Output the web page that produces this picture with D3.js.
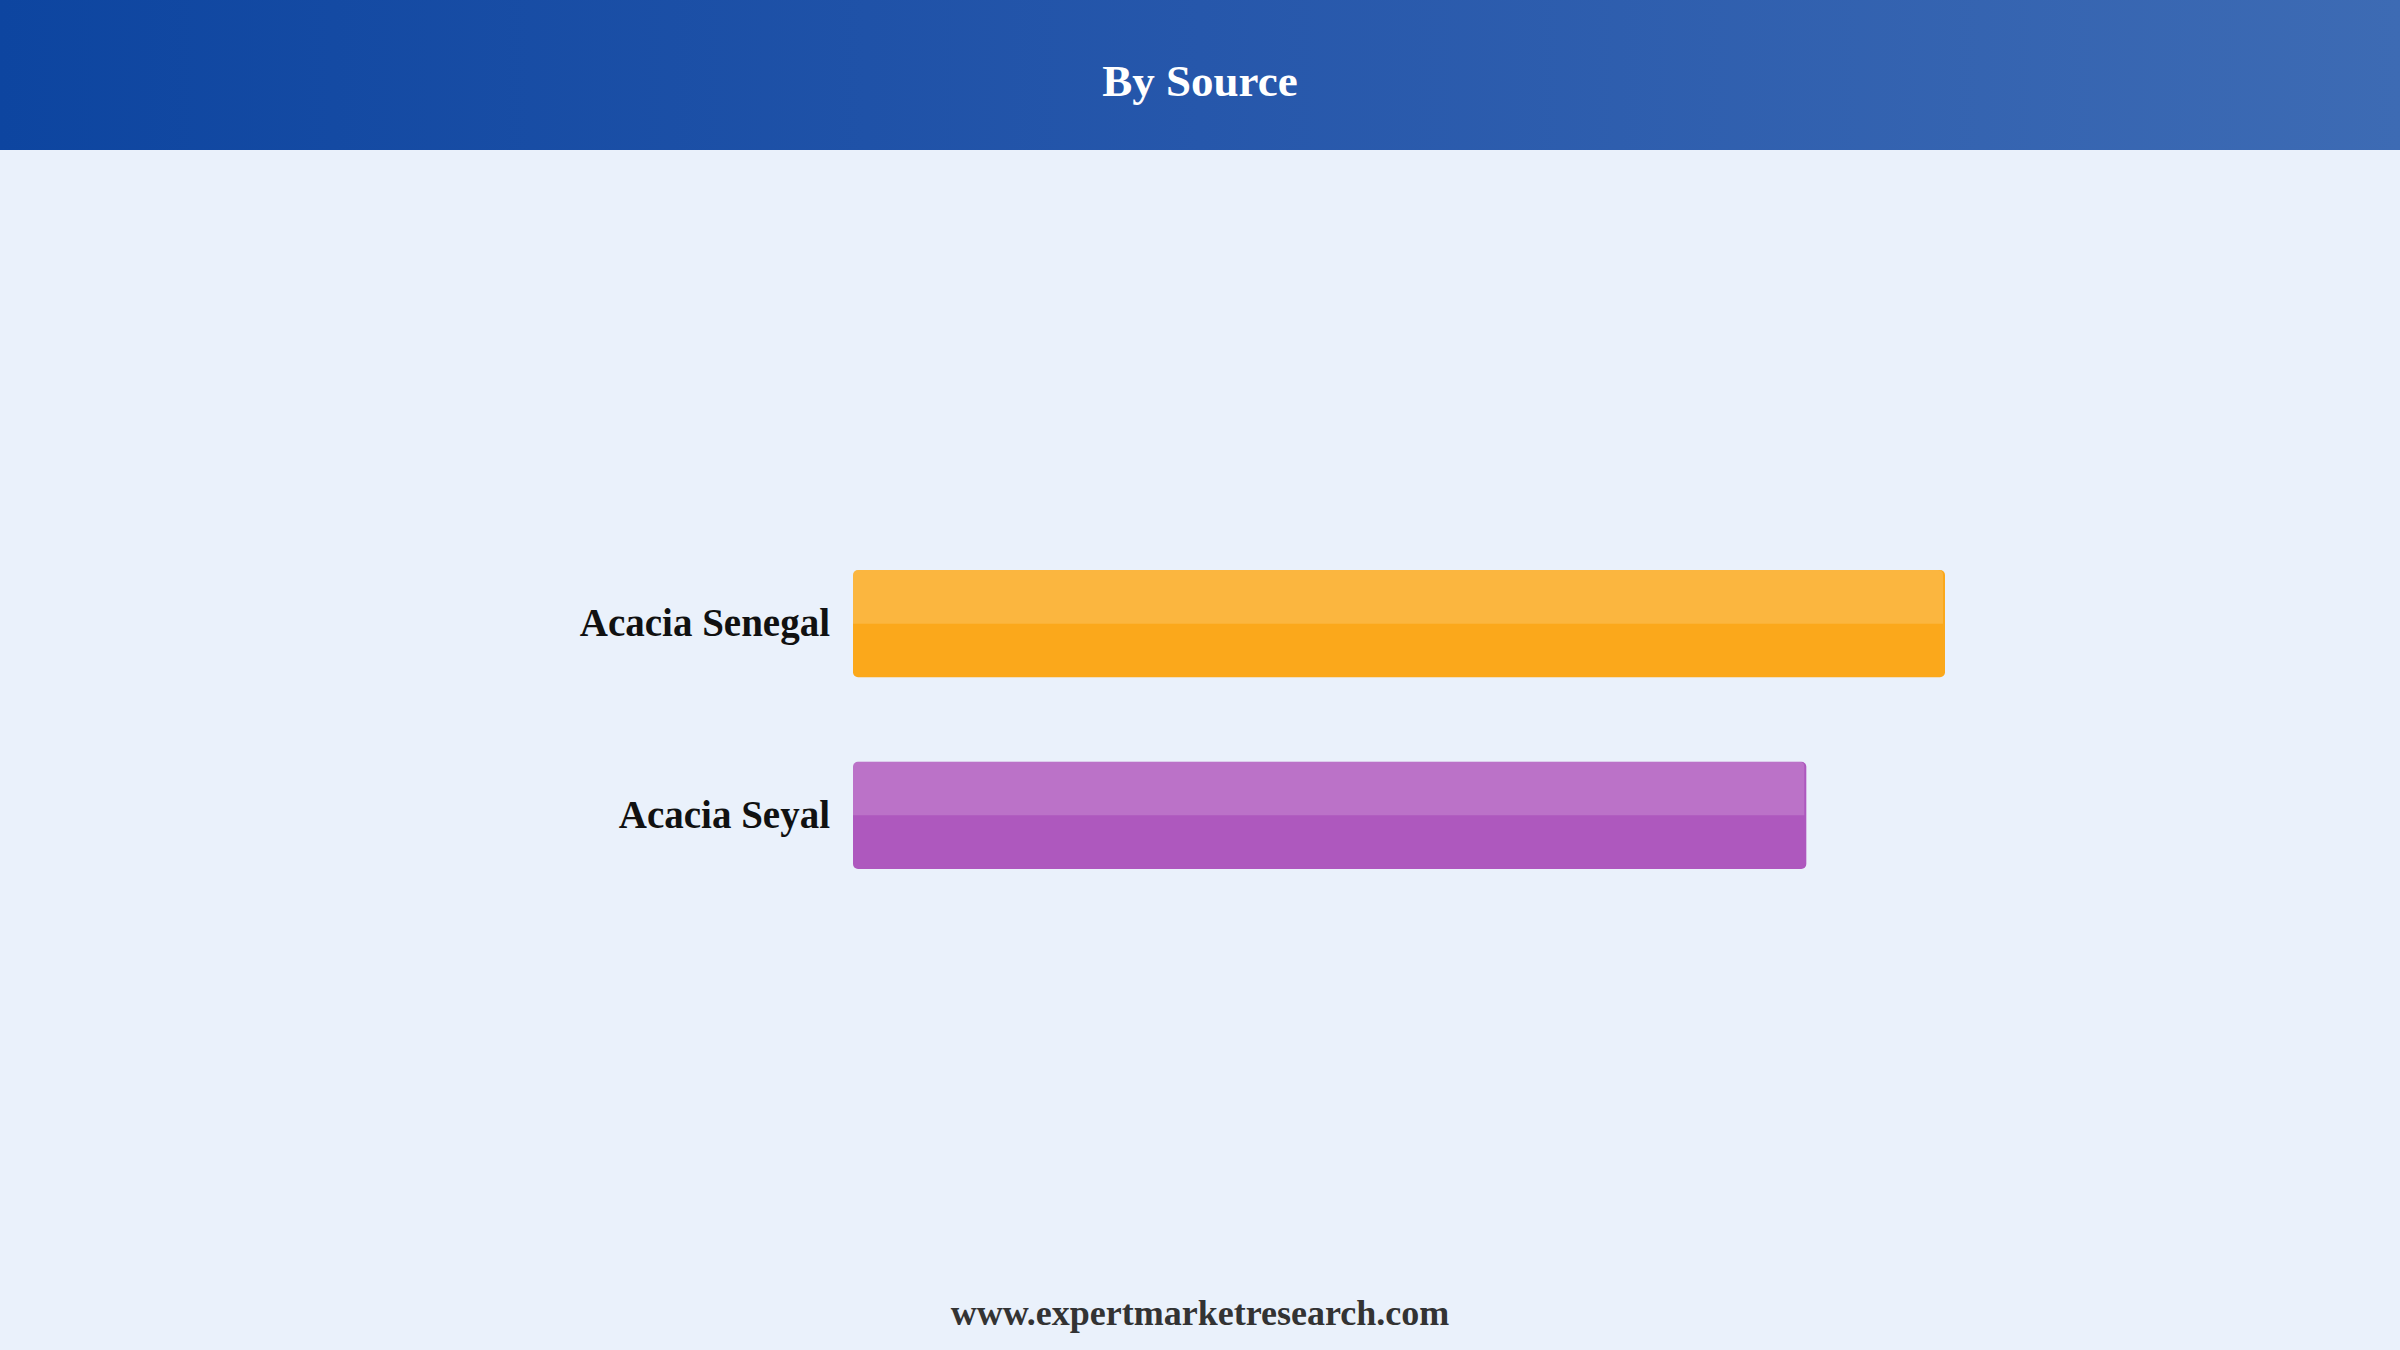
<!DOCTYPE html>
<html>
<head>
<meta charset="utf-8">
<script src="https://cdn.jsdelivr.net/npm/d3@7"></script>
<style>
  html, body { margin: 0; padding: 0; background: #eaf1fb; }
  svg { display: block; }
</style>
</head>
<body>
<div id="chart"></div>
<script>
// data (no axis shown, so values are relative)
var categories = ["Acacia Senegal", "Acacia Seyal"];
var values = [1.0, 0.873];
var barColors = ["#fba81b", "#ae58be"];
var titleText = "By Source";
var footerText = "www.expertmarketresearch.com";

var width = 2400;
var height = 1350;
var headerHeight = 150;

var svg = d3.select("#chart")
	.append("svg")
		.attr("width", width)
		.attr("height", height);

var defs = svg.append("defs");
var grad = defs.append("linearGradient")
	.attr("id", "headGrad")
	.attr("x1", "0%").attr("x2", "100%")
	.attr("y1", "0%").attr("y2", "0%");
grad.append("stop").attr("offset", "0%").attr("stop-color", "#0d45a0");
grad.append("stop").attr("offset", "50%").attr("stop-color", "#2657ab");
grad.append("stop").attr("offset", "100%").attr("stop-color", "#3d6bb4");

svg.append("rect")
	.attr("width", width)
	.attr("height", height)
	.attr("fill", "#eaf1fb");

svg.append("rect")
	.attr("width", width)
	.attr("height", headerHeight)
	.attr("fill", "url(#headGrad)");

svg.append("text")
	.attr("x", width / 2)
	.attr("y", 96)
	.attr("text-anchor", "middle")
	.style("font-family", "'Liberation Serif', 'Times New Roman', serif")
	.style("font-weight", "bold")
	.style("font-size", "45px")
	.attr("fill", "#ffffff")
	.text(titleText);

var x = d3.scaleLinear()
	.domain([0, 1])
	.range([853, 1945]);

var y = d3.scaleBand()
	.domain(categories)
	.range([570, 869])
	.paddingInner(0.44)
	.paddingOuter(0);

var rows = categories.map(function(c, i) {
	return { name: c, value: values[i], color: barColors[i] };
});

var bars = svg.append("g")
	.selectAll("g")
	.data(rows)
	.enter()
	.append("g");

bars.append("rect")
	.attr("x", x(0))
	.attr("y", function(d) { return y(d.name); })
	.attr("width", function(d) { return x(d.value) - x(0); })
	.attr("height", y.bandwidth())
	.attr("rx", 5)
	.attr("fill", function(d) { return d.color; });

// lighter top half
bars.append("path")
	.attr("d", function(d) {
		var x0 = x(0), x1 = x(d.value) - 2, y0 = y(d.name), h = y.bandwidth() / 2, r = 5;
		return "M" + x0 + "," + (y0 + h) +
			"V" + (y0 + r) + "Q" + x0 + "," + y0 + " " + (x0 + r) + "," + y0 +
			"H" + (x1 - r) + "Q" + x1 + "," + y0 + " " + x1 + "," + (y0 + r) +
			"V" + (y0 + h) + "Z";
	})
	.attr("fill", "#ffffff")
	.attr("fill-opacity", 0.16);

// labels via axis
var yAxis = svg.append("g")
	.attr("transform", "translate(" + x(0) + ",0)")
	.call(d3.axisLeft(y).tickSize(0).tickPadding(23));

yAxis.select(".domain").remove();
yAxis.selectAll("text")
	.style("font-family", "'Liberation Serif', 'Times New Roman', serif")
	.style("font-weight", "bold")
	.style("font-size", "39px")
	.attr("fill", "#111111")
	.attr("dy", "0.32em");

svg.append("text")
	.attr("x", width / 2)
	.attr("y", 1325)
	.attr("text-anchor", "middle")
	.style("font-family", "'Liberation Serif', 'Times New Roman', serif")
	.style("font-weight", "bold")
	.style("font-size", "36px")
	.attr("fill", "#333333")
	.text(footerText);
</script>
</body>
</html>
